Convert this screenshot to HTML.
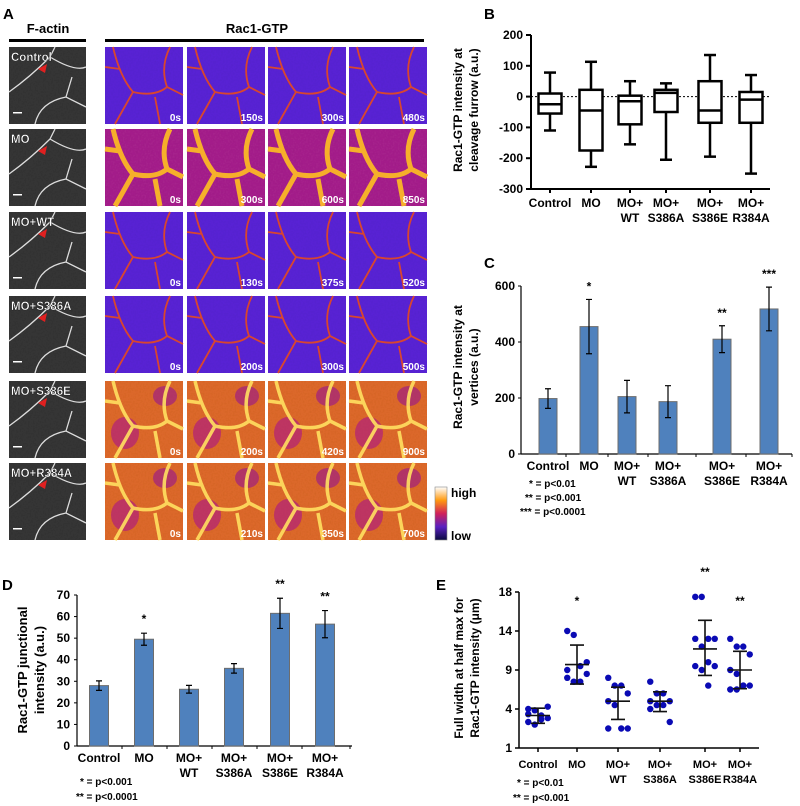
<!DOCTYPE html>
<html><head><meta charset="utf-8">
<style>
body{margin:0;background:#fff;}
svg{display:block;font-family:"Liberation Sans",Arial,sans-serif;}
.b{font-weight:bold;}
</style></head>
<body>
<svg id="fig" width="800" height="806" viewBox="0 0 800 806" xmlns="http://www.w3.org/2000/svg">
<defs>
<linearGradient id="cbar" x1="0" y1="1" x2="0" y2="0">
<stop offset="0" stop-color="#0a0a40"/><stop offset="0.25" stop-color="#5a20c0"/><stop offset="0.5" stop-color="#d0205a"/><stop offset="0.75" stop-color="#ff9a10"/><stop offset="1" stop-color="#ffffff"/>
</linearGradient>
<filter id="noise"><feTurbulence type="fractalNoise" baseFrequency="0.6" numOctaves="1" result="n"/><feColorMatrix type="saturate" values="0"/><feComponentTransfer><feFuncA type="table" tableValues="0 0.25"/></feComponentTransfer><feComposite in2="SourceGraphic" operator="in"/><feBlend in="SourceGraphic" mode="multiply"/></filter>
</defs>
<g id="panelA"></g>
<g id="panelB"></g>
<g id="panelC"></g>
<g id="panelD"></g>
<g id="panelE"></g>
</svg>
<script>
const NS="http://www.w3.org/2000/svg";
function el(p,tag,attrs,txt){const e=document.createElementNS(NS,tag);for(const k in attrs)e.setAttribute(k,attrs[k]);if(txt!==undefined)e.textContent=txt;p.appendChild(e);return e;}

// ---------- Panel A ----------
const rowLabels=["Control","MO","MO+WT","MO+S386A","MO+S386E","MO+R384A"];
const rowTimes=[["0s","150s","300s","480s"],["0s","300s","600s","850s"],["0s","130s","375s","520s"],["0s","200s","300s","500s"],["0s","200s","420s","900s"],["0s","210s","350s","700s"]];
const rowBright=[0,1,0,0,2,2];
(function(){
const A=document.getElementById('panelA');
let t=el(A,'text',{x:3,y:19,'font-size':15,class:'b'},'A');

t=el(A,'text',{x:48,y:33,'font-size':13,class:'b','text-anchor':'middle'},'F-actin');

el(A,'rect',{x:9,y:39,width:77,height:3,fill:'#000'});
t=el(A,'text',{x:257,y:33,'font-size':13,class:'b','text-anchor':'middle'},'Rac1-GTP');

el(A,'rect',{x:105,y:39,width:319,height:3,fill:'#000'});
const rowY=[47,129,212,296,381,463];
const colX=[105,187,268,349];
const bg=['#5a22d8','#a8208e','#e06a2a'];
const ln=['#e84a1c','#ffc020','#ffe060'];
const wd=[1.8,5,3.5];
for(let r=0;r<6;r++){
  const y=rowY[r];
  const g=el(A,'g',{});
  
  el(g,'rect',{x:9,y:y,width:77,height:77,fill:'#353535',filter:'url(#noise)'});
  el(g,'path',{d:`M${9} ${y+45} Q${30} ${y+30} ${50} ${y+10} L${55} ${y} M${50} ${y+10} Q${75} ${y+25} ${86} ${y+20} M${35} ${y+77} Q${40} ${y+55} ${66} ${y+50} L${86} ${y+60} M${66} ${y+50} L${72} ${y+30}`,fill:'none',stroke:'#ddd','stroke-width':1.3});
  el(g,'path',{d:`M${38} ${y+22} l9 -5 l-2 9 z`,fill:'#e02020'});
  el(g,'rect',{x:13,y:y+65,width:9,height:1.5,fill:'#fff'});
  t=el(g,'text',{x:11,y:y+14,'font-size':11.5,class:'b',fill:'#fff',stroke:'#000','stroke-width':0.3},rowLabels[r]);
  
  for(let c=0;c<4;c++){
    const x=colX[c];const k=rowBright[r];
    const p=el(A,'g',{});
    
    el(p,'rect',{x:x,y:y,width:78,height:77,fill:bg[k],filter:'url(#noise)'});
    if(k===2){el(p,'ellipse',{cx:x+20,cy:y+52,rx:14,ry:16,fill:'#b0207a',opacity:0.7});el(p,'ellipse',{cx:x+60,cy:y+15,rx:12,ry:10,fill:'#a02080',opacity:0.7});}
    el(p,'path',{d:`M${x+8} ${y} Q${x+15} ${y+30} ${x+28} ${y+45} L${x+10} ${y+77} M${x+28} ${y+45} Q${x+50} ${y+50} ${x+62} ${y+40} L${x+78} ${y+48} M${x+62} ${y+40} Q${x+55} ${y+20} ${x+65} ${y} M${x+50} ${y+50} L${x+55} ${y+77} M${x} ${y+20} L${x+15} ${y+22}`,fill:'none',stroke:ln[k],'stroke-width':wd[k],opacity:0.9});
    t=el(p,'text',{x:x+76,y:y+74,'font-size':10,class:'b',fill:'#fff','text-anchor':'end'},rowTimes[r][c]);
    
  }
}
const cb=el(A,'rect',{x:435,y:487,width:12,height:53,fill:'url(#cbar)',stroke:'#888','stroke-width':0.6});

t=el(A,'text',{x:451,y:497,'font-size':12,class:'b'},'high');
t=el(A,'text',{x:451,y:540,'font-size':12,class:'b'},'low');
})();

const cats=["Control","MO","MO+|WT","MO+|S386A","MO+|S386E","MO+|R384A"];
function catLabels(g,xs,y,fs){cats.forEach((c,i)=>{c.split('|').forEach((s,j)=>{const t=el(g,'text',{x:xs[i],y:y+j*15,'font-size':fs,class:'b','text-anchor':'middle'},s);});});}
function ytitle(g,cx,cy,lines,fs){lines.forEach((s,j)=>{const t=el(g,'text',{x:0,y:0,'font-size':fs,class:'b','text-anchor':'middle',transform:`translate(${cx+j*(fs+4)},${cy}) rotate(-90)`},s);});}

// ---------- Panel B ----------
const bWhiskHi=[78,113,50,43,135,70];
const bQ3=[10,22,3,22,50,15];
const bMed=[-25,-45,-15,12,-45,-10];
const bQ1=[-55,-175,-90,-50,-85,-85];
const bWhiskLo=[-110,-228,-155,-205,-195,-250];
const bTicks=[200,100,0,-100,-200,-300];
(function(){
const g=document.getElementById('panelB');
const y=v=>96.6-v*0.308;const xs=[550,591,630,666,710,751];
let t=el(g,'text',{x:484,y:19,'font-size':15,class:'b'},'B');
el(g,'line',{x1:531,y1:y(200),x2:531,y2:y(-300),stroke:'#000','stroke-width':2});
el(g,'line',{x1:531,y1:y(-300),x2:770,y2:y(-300),stroke:'#000','stroke-width':2});
el(g,'line',{x1:531,y1:y(0),x2:770,y2:y(0),stroke:'#000','stroke-width':1,'stroke-dasharray':'2,2'});
bTicks.forEach(v=>{el(g,'line',{x1:526,y1:y(v),x2:531,y2:y(v),stroke:'#000','stroke-width':2});const tt=el(g,'text',{x:523,y:y(v)+4,'font-size':12,class:'b','text-anchor':'end'},v);});
xs.forEach((x,i)=>{el(g,'line',{x1:x,y1:y(-300),x2:x,y2:y(-300)+4,stroke:'#000','stroke-width':2});
 const bx=el(g,'g',{});
 el(bx,'line',{x1:x,y1:y(bWhiskHi[i]),x2:x,y2:y(bWhiskLo[i]),stroke:'#000','stroke-width':2.5});
 el(bx,'line',{x1:x-6,y1:y(bWhiskHi[i]),x2:x+6,y2:y(bWhiskHi[i]),stroke:'#000','stroke-width':2.5});
 el(bx,'line',{x1:x-6,y1:y(bWhiskLo[i]),x2:x+6,y2:y(bWhiskLo[i]),stroke:'#000','stroke-width':2.5});
 el(bx,'rect',{x:x-11.5,y:y(bQ3[i]),width:23,height:y(bQ1[i])-y(bQ3[i]),fill:'#fff',stroke:'#000','stroke-width':2.5});
 el(bx,'line',{x1:x-11.5,y1:y(bMed[i]),x2:x+11.5,y2:y(bMed[i]),stroke:'#000','stroke-width':2.5});});
catLabels(g,xs,207,12);
ytitle(g,462,110,["Rac1-GTP intensity at","cleavage furrow (a.u.)"],12);
})();

// ---------- Panel C ----------
const cVals=[198,455,205,187,410,518];
const cErr=[35,97,58,57,48,78];
const cStars=["","*","","","**","***"];
const cTicks=[0,200,400,600];
(function(){
const g=document.getElementById('panelC');
const y=v=>454-v*0.28;const xs=[548,589,627,668,722,769];
let t=el(g,'text',{x:484,y:268,'font-size':15,class:'b'},'C');
el(g,'line',{x1:521,y1:y(600),x2:521,y2:454,stroke:'#000','stroke-width':1.2});
el(g,'line',{x1:521,y1:454,x2:792,y2:454,stroke:'#000','stroke-width':1.2});
cTicks.forEach(v=>{el(g,'line',{x1:518,y1:y(v),x2:521,y2:y(v),stroke:'#000'});const tt=el(g,'text',{x:515,y:y(v)+4,'font-size':12,class:'b','text-anchor':'end'},v);});
[566,608,648,696,746,792].forEach(x=>el(g,'line',{x1:x,y1:454,x2:x,y2:457,stroke:'#000'}));
xs.forEach((x,i)=>{const b=el(g,'rect',{x:x-9,y:y(cVals[i]),width:18,height:454-y(cVals[i]),fill:'#4f81bd',stroke:'#6d6d6d','stroke-width':1});
 
 el(g,'path',{d:`M${x} ${y(cVals[i]+cErr[i])}V${y(cVals[i]-cErr[i])}M${x-3} ${y(cVals[i]+cErr[i])}h6M${x-3} ${y(cVals[i]-cErr[i])}h6`,stroke:'#000','stroke-width':1.2,fill:'none'});
 if(cStars[i]){const s=el(g,'text',{x:x,y:y(cVals[i]+cErr[i])-9,'font-size':12,class:'b','text-anchor':'middle'},cStars[i]);}});
catLabels(g,xs,470,12);
["* = p<0.01","** = p<0.001","*** = p<0.0001"].forEach((s,j)=>{const tt=el(g,'text',{x:[529,525,520][j],y:487+j*14,'font-size':10,class:'b'},s);});
ytitle(g,462,367,["Rac1-GTP intensity at","vertices (a.u.)"],12);
})();

// ---------- Panel D ----------
const dVals=[28,49.5,26.3,36,61.5,56.5];
const dErr=[2.2,2.8,1.8,2.2,7,6.3];
const dStars=["","*","","","**","**"];
const dTicks=[0,10,20,30,40,50,60,70];
(function(){
const g=document.getElementById('panelD');
const y=v=>746-v*2.157;const xs=[99,144,189,234,280,325];
let t=el(g,'text',{x:2,y:590,'font-size':15,class:'b'},'D');
el(g,'line',{x1:77,y1:y(70),x2:77,y2:746,stroke:'#000','stroke-width':1.2});
el(g,'line',{x1:77,y1:746,x2:352,y2:746,stroke:'#000','stroke-width':1.2});
dTicks.forEach(v=>{el(g,'line',{x1:74,y1:y(v),x2:77,y2:y(v),stroke:'#000'});const tt=el(g,'text',{x:70,y:y(v)+4,'font-size':12,class:'b','text-anchor':'end'},v);});
[122,167,212,257,302,350].forEach(x=>el(g,'line',{x1:x,y1:746,x2:x,y2:749,stroke:'#000'}));
xs.forEach((x,i)=>{const b=el(g,'rect',{x:x-9.5,y:y(dVals[i]),width:19,height:746-y(dVals[i]),fill:'#4f81bd',stroke:'#6d6d6d','stroke-width':1});
 
 el(g,'path',{d:`M${x} ${y(dVals[i]+dErr[i])}V${y(dVals[i]-dErr[i])}M${x-3} ${y(dVals[i]+dErr[i])}h6M${x-3} ${y(dVals[i]-dErr[i])}h6`,stroke:'#000','stroke-width':1.2,fill:'none'});
 if(dStars[i]){const s=el(g,'text',{x:x,y:y(dVals[i]+dErr[i])-10,'font-size':12,class:'b','text-anchor':'middle'},dStars[i]);}});
catLabels(g,xs,762,12);
["* = p<0.001","** = p<0.0001"].forEach((s,j)=>{const tt=el(g,'text',{x:[80,76][j],y:785+j*15,'font-size':10,class:'b'},s);});
ytitle(g,27,670,["Rac1-GTP junctional","intensity (a.u.)"],13);
})();

// ---------- Panel E ----------
const eTicks=[1,4,9,14,18];
const eCtrl=[4,3.9,3.5,3.3,3,2.8,3.2,4.3,3.6];
const eMO=[14,13.5,9.5,10,8,7.5,7.5,8.5,9];
const eWT=[8,7,7,6,5,4.5,2.5,2.5,2.5];
const eS386A=[7.5,6,6,5,5,4.5,4.5,3,4];
const eS386E=[17.5,17.5,13,13,13,12,10,9.5,9.5,9,7];
const eR384A=[13,12,12,11,9,8.5,7,7,6.5,6.5,7];
const eMean=[3.5,9.7,5,5,11.7,9];
const eSD=[0.6,2.5,1.8,1.2,3.4,2.4];
const eStars=["","*","","","**","**"];
(function(){
const g=document.getElementById('panelE');
const series=[eCtrl,eMO,eWT,eS386A,eS386E,eR384A];
const y0=748,y1=592;
function y(v){for(let i=0;i<eTicks.length-1;i++){if(v<=eTicks[i+1]||i===eTicks.length-2){const f=(v-eTicks[i])/(eTicks[i+1]-eTicks[i]);return y0-(i+f)*(y0-y1)/(eTicks.length-1);}}}
const xs=[538,577,618,660,705,740];
let t=el(g,'text',{x:436,y:590,'font-size':15,class:'b'},'E');
el(g,'line',{x1:519,y1:y1,x2:519,y2:y0,stroke:'#000','stroke-width':1.5});
el(g,'line',{x1:519,y1:y0,x2:759,y2:y0,stroke:'#000','stroke-width':1.5});
eTicks.forEach(v=>{el(g,'line',{x1:515,y1:y(v),x2:519,y2:y(v),stroke:'#000','stroke-width':1.5});const tt=el(g,'text',{x:512,y:y(v)+4,'font-size':12,class:'b','text-anchor':'end'},v);});
xs.forEach((x,i)=>{el(g,'line',{x1:x,y1:y0,x2:x,y2:y0+4,stroke:'#000','stroke-width':1.5});
 const pts=series[i];
 pts.forEach((v,j)=>{const d=el(g,'circle',{cx:x+((j%4)-1.5)*6.5,cy:y(v),r:3.2,fill:'#0a0ab4'});});
 const m=eMean[i],s=eSD[i];
 el(g,'path',{d:`M${x-12} ${y(m)}h24M${x-7} ${y(m+s)}h14M${x-7} ${y(m-s)}h14M${x} ${y(m+s)}V${y(m-s)}`,stroke:'#111','stroke-width':1.6,fill:'none'});
 if(eStars[i]){const st=el(g,'text',{x:x,y:i===4?576:605,'font-size':12,class:'b','text-anchor':'middle'},eStars[i]);}});
catLabels(g,xs,768,11);
["* = p<0.01","** = p<0.001"].forEach((s,j)=>{const tt=el(g,'text',{x:[517,513][j],y:786+j*15,'font-size':10,class:'b'},s);});
ytitle(g,463,668,["Full width at half max for","Rac1-GTP intensity (μm)"],12);
})();
</script>
</body></html>
